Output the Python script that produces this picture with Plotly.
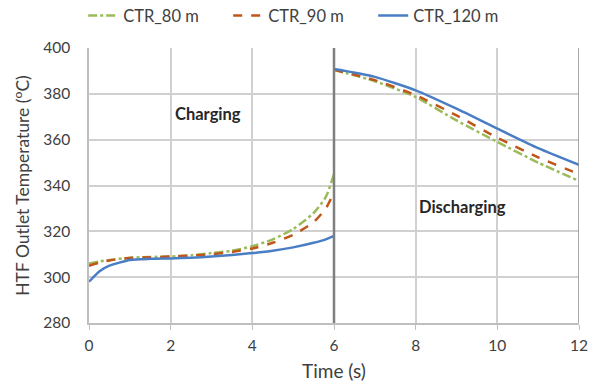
import plotly.graph_objects as go

# Charging phase (0-6 s)
t_chg = [0, 0.25, 0.5, 1, 1.5, 2, 2.5, 3, 3.5, 4, 4.5, 5, 5.5, 5.8, 6]
ctr80_chg = [306, 306.8, 307.5, 308.5, 308.8, 309, 309.6, 310.5, 311.5, 313.5, 316.5, 321, 328, 335, 345]
ctr90_chg = [305, 306.3, 307.3, 308.4, 308.7, 309, 309.4, 310, 311, 312.5, 315, 318.5, 324, 330, 337]
ctr120_chg = [298, 302.5, 305, 307.5, 308, 308.2, 308.5, 309, 309.7, 310.5, 311.5, 313, 315, 316.5, 318]

# Discharging phase (6-12 s)
t_dis = [6, 7, 8, 9, 10, 11, 12]
ctr80_dis = [390.5, 385.5, 378.6, 368.4, 359, 350, 342]
ctr90_dis = [390.5, 386, 379.4, 370.6, 360.8, 352.3, 345]
ctr120_dis = [390.8, 387.4, 381.5, 373.5, 364.8, 356.3, 349]

names = ["CTR_80 m", "CTR_90 m", "CTR_120 m"]
colors = ["#9BBB59", "#C0561A", "#4A7EC4"]
dashes = ["dashdot", "dash", "solid"]
series = [(ctr80_chg, ctr80_dis), (ctr90_chg, ctr90_dis), (ctr120_chg, ctr120_dis)]

fig = go.Figure()
for name, col, dsh, (c, d) in zip(names, colors, dashes, series):
    fig.add_trace(go.Scatter(
        x=t_chg + [None] + t_dis, y=c + [None] + d, mode="lines", name=name,
        line=dict(color=col, width=2.5, dash=dsh, shape="spline", smoothing=0.6),
        connectgaps=False))

fig.add_shape(type="line", xref="x", yref="paper", x0=6, x1=6, y0=0, y1=1,
              line=dict(color="#7F7F7F", width=2.5))
fig.add_shape(type="line", xref="x", yref="paper", x0=12, x1=12, y0=0, y1=1,
              line=dict(color="#8C8C8C", width=1.5))

fig.add_annotation(x=2.91, y=371, text="<b>Charging</b>", showarrow=False,
                   font=dict(size=16.5, color="#262626"))
fig.add_annotation(x=9.14, y=330.5, text="<b>Discharging</b>", showarrow=False,
                   font=dict(size=16.5, color="#262626"))

font = "Lato, 'Open Sans', sans-serif"
fig.update_layout(
    width=596, height=385,
    margin=dict(l=89, r=17, t=48, b=62, autoexpand=False),
    paper_bgcolor="white", plot_bgcolor="white",
    font=dict(family=font, size=15, color="#404040"),
    showlegend=True,
    legend=dict(orientation="h", x=0.432, xanchor="center", y=1.117, yanchor="middle",
                entrywidth=100,
                font=dict(size=16.5, color="#404040"), bgcolor="rgba(0,0,0,0)"),
    xaxis=dict(range=[0, 12], tickvals=[0, 2, 4, 6, 8, 10, 12], showgrid=True,
               gridcolor="#D0D0D0", gridwidth=1.5, zeroline=False,
               showline=True, linecolor="#BFBFBF", linewidth=1.5,
               ticks="outside", tickcolor="#BFBFBF", ticklen=5,
               tickfont=dict(size=15.5), ticklabelstandoff=3,
               title=dict(text="Time (s)", font=dict(size=19, color="#404040"), standoff=11)),
    yaxis=dict(range=[280, 400], tickvals=[280, 300, 320, 340, 360, 380, 400], showgrid=True,
               gridcolor="#D0D0D0", gridwidth=1.5, zeroline=False,
               showline=True, linecolor="#BFBFBF", linewidth=1.5,
               ticks="", tickfont=dict(size=15.5), ticklabelstandoff=14,
               title=dict(text="HTF Outlet Temperature (<sup>o</sup>C)",
                          font=dict(size=17.5, color="#404040"), standoff=9)),
)

fig.write_html("out.html", config={"displayModeBar": False},
               post_script="document.body.style.margin='0';")
